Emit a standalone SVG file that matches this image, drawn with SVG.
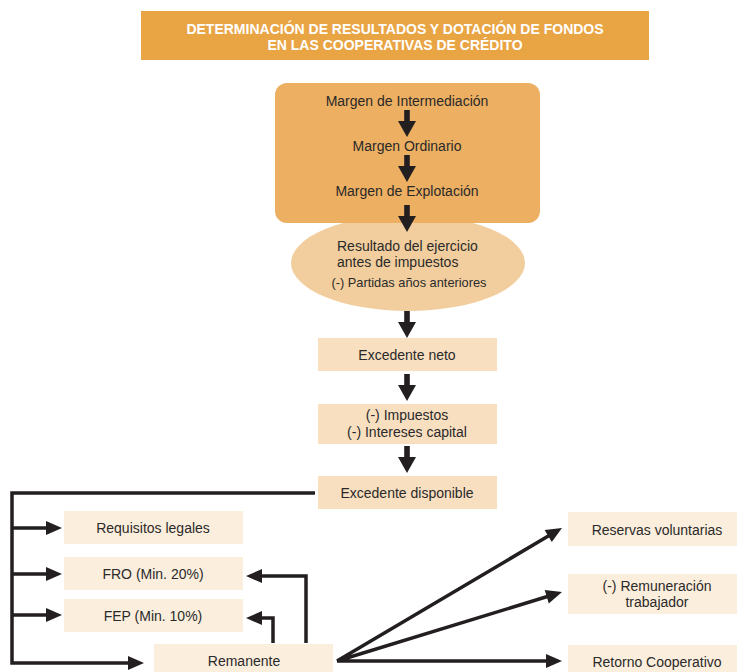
<svg xmlns="http://www.w3.org/2000/svg" width="737" height="672" viewBox="0 0 737 672">
<defs>
<style>
text{font-family:"Liberation Sans",Arial,sans-serif;font-size:14px;fill:#2a2a2a;text-anchor:middle}
.t{fill:#fff;font-weight:bold;font-size:14px}
.s{font-size:12.8px}
.b1{fill:#F8DFC0}
.b2{fill:#FCEEDD}
.ln{fill:none;stroke:#231f20;stroke-width:3.5}
.dn{fill:#231f20}
</style>
<path id="darrow" d="M-2.8,0 H2.8 V11 H9 L0,27 L-9,11 H-2.8 Z"/>
</defs>
<rect width="737" height="672" fill="#fff"/>
<g id="title">
<rect x="141" y="11" width="508" height="49" fill="#E9A444"/>
<text class="t" x="395" y="34">DETERMINACIÓN DE RESULTADOS Y DOTACIÓN DE FONDOS</text>
<text class="t" x="395" y="50">EN LAS COOPERATIVAS DE CRÉDITO</text>
</g>
<g id="resultado">
<ellipse cx="408" cy="263" rx="117" ry="48" fill="#F2CE9E"/>
<text x="337" y="251" style="text-anchor:start">Resultado del ejercicio</text>
<text x="337" y="267" style="text-anchor:start">antes de impuestos</text>
<text class="s" x="409" y="287">(-) Partidas años anteriores</text>
</g>
<g id="margenes">
<rect x="275" y="83" width="265" height="140" rx="12" fill="#EDAF62"/>
<text x="407" y="106">Margen de Intermediación</text>
<text x="407" y="151">Margen Ordinario</text>
<text x="407" y="196">Margen de Explotación</text>
</g>
<g id="excedente-neto">
<rect class="b1" x="318" y="338" width="179" height="33"/>
<text x="407" y="360">Excedente neto</text>
</g>
<g id="impuestos">
<rect class="b1" x="318" y="404" width="179" height="40"/>
<text x="407" y="420">(-) Impuestos</text>
<text x="407" y="437">(-) Intereses capital</text>
</g>
<g id="excedente-disponible">
<rect class="b1" x="318" y="476" width="179" height="33"/>
<text x="407" y="498">Excedente disponible</text>
</g>
<g id="requisitos">
<rect class="b2" x="64" y="511" width="179" height="33"/>
<text x="153" y="533">Requisitos legales</text>
</g>
<g id="fro">
<rect class="b2" x="64" y="557" width="179" height="33"/>
<text x="153" y="579">FRO (Min. 20%)</text>
</g>
<g id="fep">
<rect class="b2" x="64" y="599" width="179" height="33"/>
<text x="153" y="621">FEP (Min. 10%)</text>
</g>
<g id="remanente">
<rect class="b2" x="154" y="644" width="179" height="30"/>
<text x="244" y="666">Remanente</text>
</g>
<g id="reservas">
<rect class="b2" x="568" y="512" width="169" height="34"/>
<text x="657" y="535">Reservas voluntarias</text>
</g>
<g id="remuneracion">
<rect class="b2" x="568" y="574" width="169" height="40"/>
<text x="657" y="591">(-) Remuneración</text>
<text x="657" y="607">trabajador</text>
</g>
<g id="retorno">
<rect class="b2" x="568" y="645" width="169" height="29"/>
<text x="657" y="667">Retorno Cooperativo</text>
</g>
<g id="connectors">
<use href="#darrow" class="dn" x="407" y="110"/>
<use href="#darrow" class="dn" x="407" y="155"/>
<use href="#darrow" class="dn" x="407" y="205"/>
<use href="#darrow" class="dn" x="407" y="311"/>
<use href="#darrow" class="dn" x="407" y="374"/>
<use href="#darrow" class="dn" x="407" y="446"/>
<path class="ln" d="M315,493 H12 V663 H130"/>
<path class="ln" d="M12,528 H50 M12,574 H50 M12,615 H50"/>
<path class="ln" d="M306,643 V576 H258"/>
<path class="ln" d="M273,643 V618 H258"/>
<path class="ln" d="M337,661 L550,535 M337,661 L549,596 M337,661 H549"/>
<g class="dn">
<polygon points="62,528 46,521 46,535"/>
<polygon points="62,574 46,567 46,581"/>
<polygon points="62,615 46,608 46,622"/>
<polygon points="144,663 128,656 128,670"/>
<polygon points="246,576 262,569 262,583"/>
<polygon points="246,618 262,611 262,625"/>
<polygon points="562,528 544.6,530.1 551.8,542.1"/>
<polygon points="562,592 544.7,590 548.8,603.4"/>
<polygon points="562,661 546,654 546,668"/>
</g>
</g>
</svg>
